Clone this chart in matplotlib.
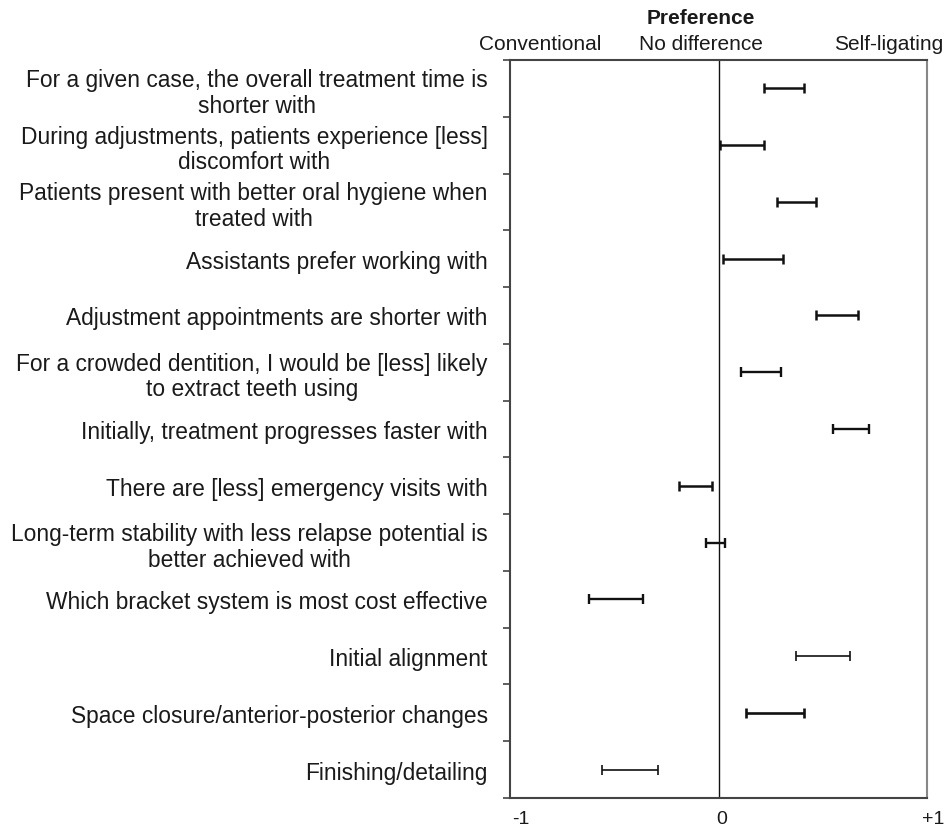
import matplotlib
matplotlib.use("Agg")
import matplotlib.pyplot as plt
import matplotlib.transforms as mtransforms
import numpy as np

plt.rcParams['font.family'] = ['Liberation Sans', 'DejaVu Sans']

labels = [
    "For a given case, the overall treatment time is\nshorter with",
    "During adjustments, patients experience [less]\ndiscomfort with",
    "Patients present with better oral hygiene when\ntreated with",
    "Assistants prefer working with",
    "Adjustment appointments are shorter with",
    "For a crowded dentition, I would be [less] likely\nto extract teeth using",
    "Initially, treatment progresses faster with",
    "There are [less] emergency visits with",
    "Long-term stability with less relapse potential is\nbetter achieved with",
    "Which bracket system is most cost effective",
    "Initial alignment",
    "Space closure/anterior-posterior changes",
    "Finishing/detailing",
]
lower = [0.22, 0.005, 0.28, 0.02, 0.47, 0.11, 0.55, -0.19, -0.06, -0.62, 0.37, 0.13, -0.56]
upper = [0.41, 0.22, 0.47, 0.31, 0.67, 0.30, 0.72, -0.03, 0.03, -0.36, 0.63, 0.41, -0.29]
line_widths = [1.8, 1.8, 1.8, 1.8, 1.8, 1.7, 1.7, 1.8, 1.7, 1.7, 1.2, 1.9, 1.2]

header_title = "Preference"
header_left = "Conventional"
header_mid = "No difference"
header_right = "Self-ligating"
xtick_vals = [-1, 0, 1]
xtick_labels = ["-1", "0", "+1"]

W, H = 946, 828
fig = plt.figure(figsize=(W / 100, H / 100), dpi=100)
ax = fig.add_axes([510 / W, 1 - 799 / H, (927 - 510) / W, (799 - 61) / H])

n = len(labels)
ypos = np.arange(n)
lo = np.array(lower)
hi = np.array(upper)
mid = (lo + hi) / 2
half = (hi - lo) / 2
txt = '#1a1a1a'

for i in range(n):
    ax.errorbar(mid[i], ypos[i], xerr=half[i], fmt='none', ecolor='#111111',
                elinewidth=line_widths[i], capsize=3.8, capthick=line_widths[i])

ax.axvline(0, color='#111111', lw=1.0)
ax.set_xlim(-1, 1)
ax.set_ylim(n - 0.5, -0.5)

ax.set_yticks(ypos)
ax.set_yticklabels(labels, fontsize=16.4, color=txt, multialignment='center',
                   linespacing=1.15)
ax.set_yticks(np.arange(n + 1) - 0.5, minor=True)
ax.tick_params(axis='y', which='major', length=0, pad=16)
ax.tick_params(axis='y', which='minor', length=5, width=1.2, color='#444444')

ax.set_xticks(xtick_vals)
ax.set_xticklabels(xtick_labels, fontsize=14, color=txt)
ax.tick_params(axis='x', length=0, pad=9)
shifts = [11, 3, 6]
for lab, dx in zip(ax.get_xticklabels(), shifts):
    lab.set_transform(lab.get_transform() +
                      mtransforms.ScaledTranslation(dx / 100, 0, fig.dpi_scale_trans))

for side in ['left', 'bottom', 'top']:
    ax.spines[side].set_color('#444444')
    ax.spines[side].set_linewidth(1.5)
ax.spines['right'].set_color('#888888')
ax.spines['right'].set_linewidth(1.5)

fig.text(701 / W, 1 - 19 / H, header_title, ha='center', va='center',
         fontsize=15, fontweight='bold', color=txt)
fig.text(540 / W, 1 - 45 / H, header_left, ha='center', va='center', fontsize=15, color=txt)
fig.text(701 / W, 1 - 45 / H, header_mid, ha='center', va='center', fontsize=15, color=txt)
fig.text(889 / W, 1 - 45 / H, header_right, ha='center', va='center', fontsize=15, color=txt)

fig.savefig("out.png", dpi=100)
